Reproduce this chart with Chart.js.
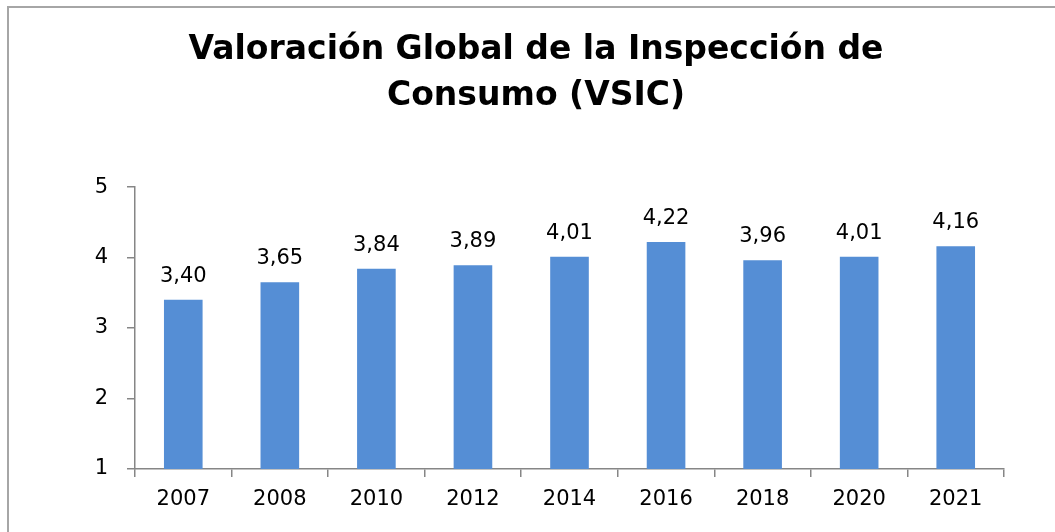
<!DOCTYPE html>
<html lang="es">
<head>
  <meta charset="UTF-8">
  <title>Valoración Global de la Inspección de Consumo (VSIC)</title>
  <script src="https://cdn.jsdelivr.net/npm/chart.js"></script>
  <style>
    html, body {
      margin: 0;
      padding: 0;
      background: #fff;
      overflow: hidden;
    }
    .frame {
      position: absolute;
      left: 7px;
      top: 6px;
      width: 1200px;
      height: 700px;
      border: 2px solid #a6a6a6;
    }
    .chart-container {
      position: absolute;
      left: 0;
      top: 0;
      width: 1055px;
      height: 532px;
    }
  </style>
</head>
<body>
  <div class="frame"></div>
  <div class="chart-container">
    <canvas id="vsicChart"></canvas>
  </div>

  <script>
    const years = ['2007', '2008', '2010', '2012', '2014', '2016', '2018', '2020', '2021'];
    const vsicValues = [3.40, 3.65, 3.84, 3.89, 4.01, 4.22, 3.96, 4.01, 4.16];
    const yTicks = [1, 2, 3, 4, 5];
    const titleLines = ['Valoración Global de la Inspección de', 'Consumo (VSIC)'];

    const axisColor = '#868686';

    // labels above each bar, comma decimals
    const barLabels = {
      id: 'barLabels',
      afterDatasetsDraw(chart) {
        const ctx = chart.ctx;
        const meta = chart.getDatasetMeta(0);
        ctx.save();
        ctx.font = '21px "DejaVu Sans"';
        ctx.fillStyle = '#000';
        ctx.textAlign = 'center';
        ctx.textBaseline = 'bottom';
        meta.data.forEach((bar, i) => {
          const txt = vsicValues[i].toFixed(2).replace('.', ',');
          ctx.fillText(txt, bar.x, bar.y - 13);
        });
        ctx.restore();
      }
    };

    const config = {
      type: 'bar',
      data: {
        labels: years,
        datasets: [{
          data: vsicValues,
          backgroundColor: '#558ed5',
          barPercentage: 0.4,
          categoryPercentage: 1.0
        }]
      },
      options: {
        responsive: true,
        maintainAspectRatio: false,
        animation: false,
        layout: {
          padding: { left: 68, right: 51, top: 0, bottom: 0 }
        },
        plugins: {
          legend: { display: false },
          tooltip: { enabled: false },
          title: {
            display: true,
            text: titleLines,
            color: '#000',
            font: { family: 'DejaVu Sans', size: 33, weight: 'bold', lineHeight: 1.41 },
            padding: { top: 27, bottom: 67 }
          }
        },
        scales: {
          x: {
            grid: {
              display: true,
              drawOnChartArea: false,
              drawTicks: true,
              tickLength: 8,
              color: axisColor,
              lineWidth: 1.5
            },
            border: { color: axisColor, width: 1.5 },
            ticks: {
              color: '#000',
              padding: 10,
              font: { family: 'DejaVu Sans', size: 21 }
            },
            afterFit(scale) { scale.height = 63; }
          },
          y: {
            min: 1,
            max: 5,
            afterBuildTicks(scale) {
              scale.ticks = yTicks.map(v => ({ value: v }));
            },
            grid: {
              display: true,
              drawOnChartArea: false,
              drawTicks: true,
              tickLength: 8,
              color: axisColor,
              lineWidth: 1.5
            },
            border: { color: axisColor, width: 1.5 },
            ticks: {
              color: '#000',
              padding: 19,
              font: { family: 'DejaVu Sans', size: 21 }
            },
            afterFit(scale) { scale.width = 67; }
          }
        }
      },
      plugins: [barLabels]
    };

    new Chart(document.getElementById('vsicChart'), config);
  </script>
</body>
</html>
